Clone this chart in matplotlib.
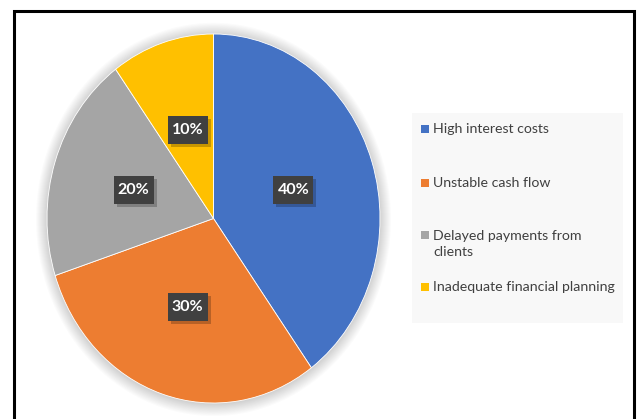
import numpy as np
import matplotlib.pyplot as plt
from matplotlib.patches import Rectangle, Circle

categories = ['High interest costs', 'Unstable cash flow',
              'Delayed payments from\nclients', 'Inadequate financial planning']
shares = [40, 30, 20, 10]
colors = ['#4472C4', '#ED7D31', '#A5A5A5', '#FFC000']

W, H = 640, 419
fig = plt.figure(figsize=(W / 100, H / 100), dpi=100)
plt.rcParams['font.family'] = ['Lato', 'DejaVu Sans']

# outer frame
fig.patches.append(Rectangle((13.5 / W, -0.05), (634 - 13.5) / W, 1.05 - 11.5 / H,
                             transform=fig.transFigure, fill=False,
                             edgecolor='black', linewidth=2.2))

# the pie is stretched a little taller than wide
left, right, top, bottom = 47, 380, 34, 403
rx, ry = (right - left) / 2, (bottom - top) / 2
ax = fig.add_axes([left / W, 1 - bottom / H, (right - left) / W, (bottom - top) / H])
ax.axis('off')

wedges, _ = ax.pie(shares, colors=colors, startangle=90, counterclock=False,
                   radius=1.0, wedgeprops=dict(linewidth=0.6, edgecolor='white'))
for w in wedges:
    w.set_zorder(2)
ax.set_xlim(-1, 1)
ax.set_ylim(-1, 1)
ax.set_aspect('auto')

# soft shadow around the pie
for i in range(12):
    ax.add_patch(Circle((0.0, -0.005), 1.0 + 0.006 * i, facecolor='black',
                        alpha=0.016, edgecolor='none', zorder=0, clip_on=False))

# value labels on dark boxes
bw, bh = 40 / rx, 28 / ry
ang = 90.0
for v in shares:
    mid = np.deg2rad(ang - v * 3.6 / 2)
    ang -= v * 3.6
    x, y = 0.505 * np.cos(mid), 0.505 * np.sin(mid)
    ax.add_patch(Rectangle((x - bw / 2 + 3 / rx, y - bh / 2 - 3 / ry), bw, bh,
                           facecolor='black', alpha=0.22, edgecolor='none', zorder=3))
    ax.add_patch(Rectangle((x - bw / 2, y - bh / 2), bw, bh,
                           facecolor='#404040', edgecolor='none', zorder=4))
    ax.text(x, y, f'{v}%', ha='center', va='center', fontsize=11.5,
            fontweight='bold', color='white', zorder=5)

# legend panel
fig.patches.append(Rectangle((412 / W, 1 - 323 / H), (623 - 412) / W, (323 - 113) / H,
                             transform=fig.transFigure, facecolor='#F8F8F8',
                             edgecolor='none', zorder=0))
legend_y = [129, 183, 244, 287]
for lab, c, ly in zip(categories, colors, legend_y):
    sy = ly if '\n' not in lab else ly - 9
    fig.patches.append(Rectangle((421 / W, 1 - (sy + 4) / H), 8 / W, 8 / H,
                                 transform=fig.transFigure, facecolor=c,
                                 edgecolor='none', zorder=1))
    fig.text(433 / W, 1 - ly / H, lab, ha='left', va='center', fontsize=10.2,
             color='#404040', linespacing=1.35)

fig.savefig('out.png', dpi=100)
